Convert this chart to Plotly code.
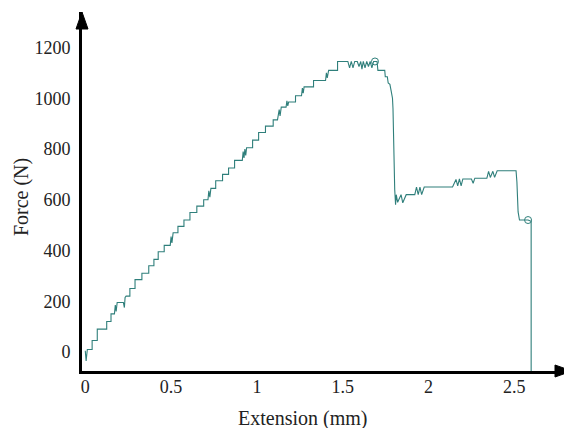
import plotly.graph_objects as go

# extension (mm) / force (N), vertex by vertex
extension = [
    0.000, 0.005, 0.012, 0.040, 0.040, 0.070, 0.070, 0.125, 0.125, 0.150, 0.150, 0.170,
    0.175, 0.180, 0.186, 0.222, 0.228, 0.232, 0.238, 0.260, 0.260, 0.290, 0.290, 0.330,
    0.330, 0.370, 0.370, 0.400, 0.400, 0.425, 0.425, 0.460, 0.460, 0.495, 0.500, 0.505,
    0.512, 0.540, 0.540, 0.575, 0.575, 0.610, 0.610, 0.650, 0.650, 0.690, 0.690, 0.715,
    0.720, 0.726, 0.732, 0.760, 0.760, 0.800, 0.800, 0.835, 0.835, 0.870, 0.870, 0.915,
    0.920, 0.925, 0.930, 0.935, 0.940, 0.975, 0.975, 1.010, 1.010, 1.050, 1.050, 1.095,
    1.095, 1.120, 1.130, 1.135, 1.142, 1.170, 1.175, 1.180, 1.185, 1.225, 1.225, 1.260,
    1.265, 1.270, 1.275, 1.330, 1.330, 1.400, 1.405, 1.410, 1.418, 1.470, 1.470, 1.530,
    1.540, 1.550, 1.560, 1.570, 1.585, 1.595, 1.605, 1.612, 1.620, 1.630, 1.640, 1.650,
    1.660, 1.670, 1.680, 1.700, 1.705, 1.745, 1.748, 1.760, 1.765, 1.775, 1.782, 1.790,
    1.793, 1.797, 1.803, 1.808, 1.812, 1.820, 1.840, 1.850, 1.870, 1.920, 1.930, 1.940,
    1.950, 1.960, 1.975, 2.140, 2.160, 2.170, 2.180, 2.190, 2.200, 2.250, 2.260, 2.270,
    2.340, 2.350, 2.360, 2.375, 2.385, 2.400, 2.510, 2.515, 2.518, 2.522, 2.530, 2.580,
    2.598, 2.598,
]
force = [
    5, -35, 10, 10, 45, 45, 90, 90, 120, 120, 150, 150,
    185, 160, 195, 195, 175, 215, 220, 220, 250, 250, 285, 285,
    310, 310, 340, 340, 365, 365, 395, 395, 420, 420, 455, 430,
    470, 470, 495, 495, 520, 520, 550, 550, 575, 575, 600, 600,
    635, 610, 645, 645, 675, 675, 700, 700, 725, 725, 755, 755,
    790, 765, 800, 775, 805, 805, 835, 835, 865, 865, 890, 890,
    915, 915, 955, 930, 965, 965, 990, 970, 985, 985, 1010, 1010,
    1040, 1020, 1045, 1045, 1070, 1070, 1100, 1080, 1110, 1110, 1145, 1145,
    1120, 1145, 1120, 1145, 1145, 1125, 1145, 1115, 1145, 1120, 1145, 1125,
    1145, 1120, 1145, 1145, 1110, 1110, 1085, 1085, 1060, 1055, 1030, 1000,
    960, 800, 640, 580, 620, 590, 620, 588, 620, 620, 650, 620,
    650, 620, 650, 650, 680, 655, 682, 655, 682, 682, 665, 685,
    685, 712, 688, 712, 688, 714, 714, 670, 600, 552, 520, 520,
    515, -75,
]

# the two small open circles on the curve
circle_ext = [1.688, 2.580]
circle_force = [1145, 520]

x_ticks = [0, 0.5, 1, 1.5, 2, 2.5]
y_ticks = [0, 200, 400, 600, 800, 1000, 1200]

line_col = "#2f7f7b"
serif = "Liberation Serif"

fig = go.Figure()
fig.add_trace(go.Scatter(x=extension, y=force, mode="lines",
                         line=dict(color=line_col, width=1.1), showlegend=False))
fig.add_trace(go.Scatter(x=circle_ext, y=circle_force, mode="markers",
                         marker=dict(symbol="circle-open", size=7, color=line_col,
                                     line=dict(width=1)), showlegend=False))

fig.update_xaxes(range=[-0.019, 2.836], tickvals=x_ticks, ticktext=["0", "0.5", "1", "1.5", "2", "2.5"],
                 showgrid=False, zeroline=False, showline=True, linecolor="black", linewidth=3,
                 ticks="", ticklabelstandoff=-3, tickfont=dict(family=serif, size=18, color="#222"))
fig.update_yaxes(range=[-75, 1340], tickvals=y_ticks,
                 showgrid=False, zeroline=False, showline=True, linecolor="black", linewidth=3,
                 ticks="", ticklabelstandoff=5, tickfont=dict(family=serif, size=18, color="#222"))

# arrowheads at the ends of both axes
fig.add_shape(type="path", xref="paper", yref="paper", xsizemode="pixel", ysizemode="pixel",
              xanchor=0, yanchor=1, path="M-6,-17 L0,0 L6,-17 Z",
              fillcolor="black", line=dict(color="black", width=1))
fig.add_shape(type="path", xref="paper", yref="paper", xsizemode="pixel", ysizemode="pixel",
              xanchor=1, yanchor=0, path="M0,0 L-17,6 L-17,-6 Z",
              fillcolor="black", line=dict(color="black", width=1))

fig.add_annotation(text="Extension (mm)", xref="paper", yref="paper", x=0.451, y=-0.133,
                   showarrow=False, xanchor="center", yanchor="middle",
                   font=dict(family=serif, size=20, color="#222"))
fig.add_annotation(text="Force (N)", xref="paper", yref="paper", x=-0.122, y=0.485,
                   showarrow=False, textangle=-90, xanchor="center", yanchor="middle",
                   font=dict(family=serif, size=20, color="#222"))

# page body has an 8px margin, so the figure is drawn 8px smaller
fig.update_layout(width=564, height=420, margin=dict(l=74, r=0, t=4, b=57),
                  plot_bgcolor="white", paper_bgcolor="white")

fig.write_html("out.html")
